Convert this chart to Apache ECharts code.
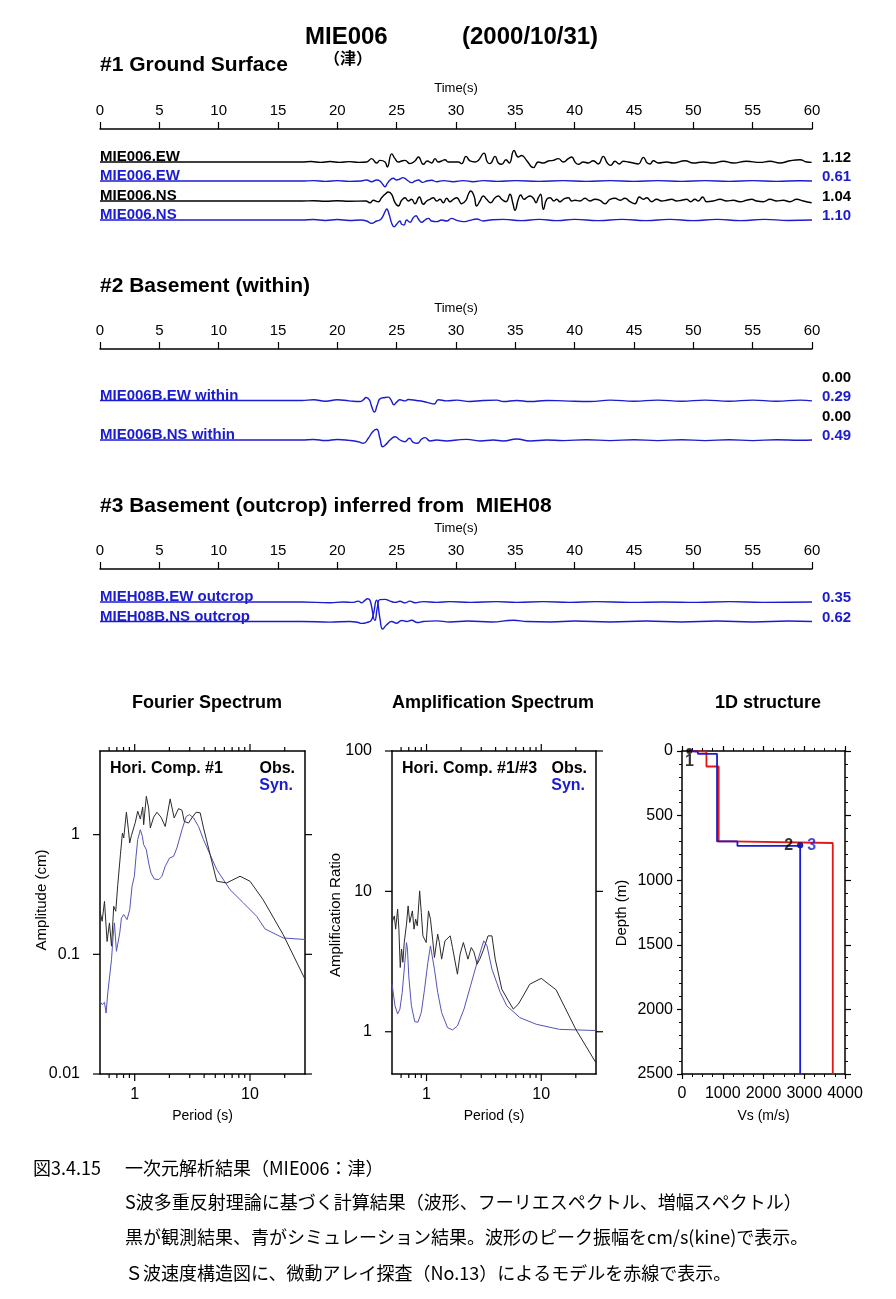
<!DOCTYPE html>
<html><head><meta charset="utf-8">
<script src="https://cdn.jsdelivr.net/npm/echarts@6/dist/echarts.min.js"></script>
<style>html,body{margin:0;padding:0;background:#fff}#c{width:896px;height:1299px}</style>
</head><body><div id="c"></div>
<script>
// ---------------- DATA ----------------
const timeTicks = [0,5,10,15,20,25,30,35,40,45,50,55,60];

// Section #1 waveforms: [time s, normalized amplitude]
const obsEW1 = [[0,0],[17,0],[17.8,0.04],[18.6,-0.03],[19.4,0.04],[20.2,-0.03],[21.0,0.03],[21.8,-0.03],[22.47,0],[22.89,0.29],[23.31,-0.09],[23.59,0.14],[24.02,0],[24.21,-0.43],[24.58,0.71],[24.86,0.29],[25.14,0],[25.42,0.09],[25.70,0.14],[26.12,-0.14],[26.54,0.09],[26.83,0.43],[27.25,-0.2],[27.58,0.09],[27.95,-0.09],[28.23,0.29],[28.51,0],[28.79,0.09],[29.07,0.2],[29.35,0],[29.77,0],[30.20,0],[30.48,-0.14],[30.84,0.49],[31.18,0.09],[31.60,0],[31.88,0.14],[32.36,0.77],[32.64,0],[32.86,-0.14],[33.29,0.49],[33.57,-0.09],[33.85,-0.2],[34.21,0.2],[34.49,-0.09],[34.89,1.0],[35.25,0.43],[35.53,0.57],[35.95,0.14],[36.52,-0.49],[36.94,0],[37.36,-0.09],[37.78,0.09],[38.20,0.14],[38.62,0.29],[39.05,0],[39.47,0.29],[39.75,0.43],[40.03,0],[40.31,-0.2],[40.73,0],[41.15,-0.09],[41.57,0.11],[41.99,-0.17],[42.41,0.49],[42.75,-0.09],[43.03,-0.29],[43.40,0.06],[43.76,-0.17],[44.10,0.06],[44.52,0],[44.94,-0.09],[45.36,-0.17],[45.79,0.4],[46.12,-0.09],[46.35,-0.17],[46.63,0.11],[47.05,-0.09],[47.75,0],[48.31,-0.09],[49.30,0.11],[50.0,-0.09],[50.84,0],[51.68,-0.09],[52.52,0.06],[53.37,-0.09],[54.49,0.06],[55.62,-0.03],[56.46,0.06],[57.30,-0.09],[58.14,0.11],[58.99,0.2],[59.55,0],[59.97,-0.03]];
const synEW1 = [[0,0],[17,0],[18,0.06],[19,-0.06],[20,0.06],[21,-0.06],[22.0,0],[22.47,0.18],[22.89,-0.12],[23.31,0.18],[23.59,0],[23.87,-0.71],[24.02,-1.0],[24.21,-0.41],[24.44,0.18],[24.72,0.47],[25.0,0.18],[25.28,0.35],[25.5,0.59],[25.7,0.47],[25.98,0],[26.26,-0.29],[26.54,0],[26.83,0.18],[27.19,-0.24],[27.53,0],[27.95,0.12],[28.37,-0.12],[28.93,0.06],[29.77,-0.12],[30.62,0.06],[31.46,-0.12],[32.3,0.06],[33.5,-0.06],[35,0.06],[37,-0.06],[39,0.06],[41,-0.06],[43,0.06],[45,-0.06],[47,0.06],[49,-0.06],[51,0.06],[53,-0.06],[55,0.06],[57,-0.06],[59,0.04],[60,0]];
const obsNS1 = [[0,0],[17,0],[18,0.03],[19,-0.03],[20,0.03],[21,-0.03],[22.4,0],[22.75,-0.17],[23.03,0.07],[23.45,-0.07],[23.73,0.33],[24.02,0.67],[24.30,0.9],[24.58,0.67],[24.86,-0.17],[25.14,-0.5],[25.42,0.07],[25.70,0.33],[25.98,0],[26.26,0.17],[26.54,-0.27],[26.91,0.4],[27.25,-0.33],[27.53,0],[27.81,0.17],[28.09,0.33],[28.37,0],[28.65,0.17],[28.93,-0.17],[29.21,0.27],[29.49,-0.07],[29.77,0.17],[30.06,0.33],[30.48,-0.27],[30.84,0.07],[31.04,0.67],[31.24,1.0],[31.52,0.5],[31.74,-0.5],[32.02,0],[32.30,0.5],[32.58,0.17],[32.92,-0.17],[33.29,0.33],[33.57,0.5],[33.85,0.17],[34.21,-0.07],[34.55,0.67],[34.78,-0.17],[34.97,-0.93],[35.25,0.17],[35.45,0.6],[35.73,0.17],[35.95,0.33],[36.24,0.5],[36.52,0.27],[36.74,-0.17],[36.94,0.33],[37.13,0.67],[37.36,-0.83],[37.64,0.17],[37.92,0.33],[38.26,0],[38.48,0.17],[38.76,-0.07],[39.05,0.17],[39.47,0.33],[39.75,0],[40.03,0.07],[40.45,0],[40.87,0.27],[41.29,0],[41.71,0.17],[42.13,0.07],[42.55,-0.27],[42.98,0.17],[43.40,0.27],[43.82,0.07],[44.24,0.27],[44.66,-0.07],[45.08,-0.27],[45.45,0.4],[45.79,0.17],[46.07,0.33],[46.49,-0.07],[46.91,0.17],[47.33,0],[47.75,0.07],[48.17,0.17],[48.59,0],[49.01,0.07],[49.44,0.17],[49.77,-0.07],[50.14,0.17],[50.42,0],[50.79,0.4],[51.12,-0.07],[51.68,0],[52.25,0.17],[52.81,0],[53.37,0.07],[53.93,-0.07],[54.49,0.07],[54.91,0.17],[55.34,0],[55.90,-0.07],[56.46,0.17],[57.02,0],[57.58,0.07],[58.14,-0.07],[58.71,0.17],[59.27,0],[59.97,-0.17]];
const synNS1 = [[0,0],[17,0],[18,0.04],[19,-0.04],[20,0.04],[21,-0.04],[22,0],[22.47,-0.09],[22.89,-0.3],[23.31,-0.09],[23.59,0],[23.82,0.3],[24.02,0.76],[24.16,1.0],[24.38,0.45],[24.58,-0.3],[24.78,-0.61],[25.0,-0.39],[25.28,-0.09],[25.42,-0.39],[25.62,-0.45],[25.84,0],[26.12,-0.21],[26.40,0.21],[26.63,0.39],[26.83,0.09],[27.11,-0.21],[27.39,0],[27.67,0.15],[27.95,-0.09],[28.37,-0.15],[28.79,0],[29.21,-0.09],[29.63,0.15],[30.06,-0.03],[30.62,-0.15],[31.18,-0.03],[31.74,0.09],[32.30,-0.09],[32.86,0],[34,0.06],[35.5,-0.06],[37,0.06],[38.5,-0.06],[40,0.06],[42,-0.06],[44,0.06],[46,-0.06],[48,0.06],[50,-0.06],[52,0.06],[54,-0.06],[56,0.06],[58,-0.04],[60,0]];
const names1 = ['MIE006.EW','MIE006.EW','MIE006.NS','MIE006.NS'];
const peaks1 = ['1.12','0.61','1.04','1.10'];

// Section #2
const withinEW = [[0,0],[17,0],[18,0.06],[19,-0.06],[20,0.06],[21,-0.03],[21.91,-0.09],[22.19,0.06],[22.42,0.26],[22.70,0.06],[22.89,-0.51],[23.12,-1.0],[23.37,-0.37],[23.59,0.14],[24.02,0.26],[24.30,0.29],[24.52,0.06],[24.77,-0.37],[25.0,-0.14],[25.28,0.06],[25.70,-0.03],[25.98,0.09],[26.68,0],[27.25,-0.09],[27.81,-0.23],[28.15,-0.31],[28.51,0.06],[29.21,-0.03],[30.06,0.03],[31.18,-0.09],[32.30,0],[33.43,0.03],[33.99,-0.09],[35.11,0],[36.24,-0.09],[37.64,0],[39.05,-0.03],[41.29,-0.09],[43,0.03],[45,-0.06],[47,0.03],[49,-0.06],[51,0.03],[53,-0.06],[55,0.03],[57,-0.06],[59,0.03],[60,-0.03]];
const withinNS = [[0,0],[17,0],[18,0.05],[19,-0.05],[20,0.05],[21,-0.03],[21.77,-0.16],[22.19,-0.31],[22.61,0.16],[22.98,0.78],[23.31,1.0],[23.59,0.16],[23.82,-0.63],[24.10,-0.41],[24.44,0],[24.86,0.31],[25.28,0],[25.70,-0.16],[26.07,0.16],[26.40,-0.22],[26.74,-0.31],[27.11,0.09],[27.39,0.22],[27.81,-0.09],[28.37,0],[29.21,-0.09],[30.06,0],[30.9,0.06],[32.02,-0.09],[33.15,0],[33.99,-0.09],[35.11,0.09],[36.24,-0.09],[37.64,0],[39.05,-0.06],[41,0.03],[43,-0.06],[45,0.03],[47,-0.06],[49,0.03],[51,-0.06],[53,0.03],[55,-0.06],[57,0.03],[59,-0.03],[60,0]];
const names2 = ['MIE006B.EW within','MIE006B.NS within'];
const peaks2 = ['0.00','0.29','0.00','0.49'];

// Section #3
const outcropEW = [[0,0],[17,0],[19.38,-0.04],[20.5,0],[21.35,-0.02],[21.77,0.05],[22.05,-0.04],[22.33,0.09],[22.53,0.18],[22.75,0.09],[23.17,-1.0],[23.37,-0.31],[23.59,0.13],[24.02,0.14],[24.44,0.05],[24.86,-0.02],[25.28,0.04],[25.70,-0.05],[26.12,0.05],[26.54,-0.04],[27.25,0.02],[28.37,-0.02],[29.49,0.02],[31.18,-0.02],[33.43,0.02],[35.11,-0.02],[37.36,0.02],[39.61,-0.02],[41.85,0.02],[44.66,-0.02],[47.47,0],[50.28,-0.02],[53.09,0.02],[55.9,-0.02],[60,0]];
const outcropNS = [[0,0],[17,0],[19.38,-0.03],[21.07,0],[21.77,-0.05],[22.05,-0.09],[22.47,-0.05],[22.89,0.08],[23.31,1.0],[23.59,0.15],[23.82,-0.35],[24.16,-0.15],[24.58,0],[25.0,-0.08],[25.42,0.05],[25.84,0],[26.26,0.06],[26.74,-0.05],[27.25,0],[28.37,0.03],[29.49,-0.02],[31,0.02],[33,-0.02],[34.83,0.06],[36,0],[38,-0.02],[40,0.02],[43,-0.02],[46,0.02],[49,-0.02],[52,0.02],[55,-0.02],[58,0.02],[60,0]];
const names3 = ['MIEH08B.EW outcrop','MIEH08B.NS outcrop'];
const peaks3 = ['0.35','0.62'];

// Fourier spectrum [period s, amplitude cm]
const fourierObs = [[0.5,0.229],[0.522,0.189],[0.547,0.277],[0.576,0.128],[0.604,0.183],[0.629,0.117],[0.658,0.252],[0.685,0.229],[0.713,0.382],[0.732,0.370],[0.752,0.681],[0.782,1.03],[0.803,0.938],[0.847,1.54],[0.882,1.10],[0.905,0.852],[0.936,0.981],[0.967,0.968],[1.013,1.27],[1.062,1.57],[1.119,1.35],[1.173,1.70],[1.196,1.21],[1.261,2.09],[1.321,1.67],[1.366,1.14],[1.46,1.40],[1.56,1.54],[1.69,1.40],[1.84,1.17],[2.03,1.99],[2.20,1.38],[2.28,1.35],[2.40,1.65],[2.57,1.60],[2.69,1.29],[2.93,1.25],[3.13,1.38],[3.41,1.54],[3.70,1.52],[3.95,1.14],[4.51,0.681],[5.15,0.408],[6.28,0.395],[8.20,0.449],[10,0.408],[13.0,0.286],[19.4,0.146],[30,0.062]];
const fourierSyn = [[0.5,0.0405],[0.522,0.038],[0.547,0.0397],[0.565,0.0323],[0.584,0.0475],[0.604,0.0634],[0.616,0.0655],[0.629,0.0902],[0.650,0.141],[0.667,0.183],[0.694,0.106],[0.713,0.109],[0.742,0.151],[0.767,0.201],[0.803,0.215],[0.858,0.195],[0.905,0.236],[0.948,0.370],[0.993,0.449],[1.027,0.659],[1.062,0.908],[1.119,1.10],[1.165,0.968],[1.196,0.825],[1.261,0.749],[1.321,0.580],[1.384,0.478],[1.479,0.426],[1.613,0.421],[1.723,0.449],[1.84,0.544],[2.007,0.638],[2.174,0.659],[2.323,0.774],[2.57,1.10],[2.80,1.42],[2.99,1.47],[3.24,1.38],[3.58,1.17],[3.95,0.908],[4.51,0.681],[5.15,0.510],[6.71,0.347],[8.76,0.269],[11.42,0.208],[13.5,0.163],[19.4,0.137],[30,0.133]];

// Amplification spectrum [period s, ratio]
const ampObs = [[0.5,6.0],[0.524,6.69],[0.538,5.38],[0.56,7.47],[0.574,5.38],[0.59,2.87],[0.606,3.88],[0.622,3.12],[0.639,4.32],[0.669,5.84],[0.691,7.88],[0.714,6.0],[0.738,6.17],[0.753,7.26],[0.778,5.38],[0.804,6.34],[0.831,5.68],[0.871,10.08],[0.9,7.07],[0.93,4.82],[0.961,4.88],[0.993,4.32],[1.04,7.26],[1.082,6.34],[1.134,4.44],[1.172,3.38],[1.251,4.96],[1.293,4.32],[1.354,3.29],[1.447,4.44],[1.608,4.82],[1.684,3.98],[1.859,2.57],[1.96,3.57],[2.094,4.32],[2.193,3.77],[2.296,3.29],[2.453,3.98],[2.586,3.71],[2.762,3.03],[2.912,3.29],[3.152,3.88],[3.435,4.82],[3.717,4.82],[3.97,3.29],[4.531,2.01],[5.17,1.66],[5.706,1.45],[6.302,1.57],[6.957,1.80],[7.937,2.18],[10,2.40],[13.46,1.99],[20.0,1.04],[30,0.6]];
const ampSyn = [[0.5,2.2],[0.531,1.53],[0.56,1.34],[0.586,1.45],[0.614,1.91],[0.647,3.12],[0.669,4.32],[0.682,3.88],[0.70,2.50],[0.738,1.53],[0.789,1.18],[0.842,1.17],[0.9,1.37],[0.961,2.01],[1.027,3.12],[1.082,4.09],[1.119,3.98],[1.172,2.79],[1.251,1.91],[1.354,1.37],[1.525,1.07],[1.684,1.03],[1.859,1.10],[2.121,1.45],[2.421,2.13],[2.762,3.12],[3.152,4.44],[3.367,4.09],[3.717,2.79],[4.384,1.91],[5.003,1.53],[6.513,1.26],[9.06,1.13],[14.4,1.04],[30,1.02]];

// 1D structure: layer Vs (m/s) and layer top depth (m)
const modelVs = [200, 390, 860, 1360, 2900];
const modelTop = [0, 5, 22, 700, 735];
const arrayVs = [150, 600, 900, 1200, 3700];
const arrayTop = [0, 5, 120, 700, 712];
const stationPts = [{name:'1', vs:180, depth:0}, {name:'2', vs:2900, depth:730}, {name:'3', vs:2900, depth:730}];

// Caption
const captionLines = [
  '図3.4.15',
  '一次元解析結果（MIE006：津）',
  'S波多重反射理論に基づく計算結果（波形、フーリエスペクトル、増幅スペクトル）',
  '黒が観測結果、青がシミュレーション結果。波形のピーク振幅をcm/s(kine)で表示。',
  'Ｓ波速度構造図に、微動アレイ探査（No.13）によるモデルを赤線で表示。'
];

// ---------------- BUILD ----------------
const FONT = '"Liberation Sans", Arial, Helvetica, sans-serif';
const CJK = '"Noto Sans CJK JP", "Noto Sans CJK SC", sans-serif';
const BLUE = '#1b1bd0';
const SYNBLUE = '#5454b8';
const RED = '#e01818';

function txt(text, x, y, o) {
  o = o || {};
  return {type:'text', x:x, y:y, rotation:o.rotation||0, silent:true, z:100,
    style:{text:text, fill:o.color||'#000', fontSize:o.size||15, fontWeight:o.weight||'bold',
      fontFamily:o.font||FONT, align:o.align||'left', verticalAlign:'middle'}};
}

const waveSections = [
  {top:129, height:100, traces:[
    {data:obsEW1, base:33, gain:11.5, color:'#000'},
    {data:synEW1, base:52, gain:5.7, color:BLUE},
    {data:obsNS1, base:72, gain:10, color:'#000'},
    {data:synNS1, base:91, gain:11, color:BLUE}]},
  {top:349, height:100, traces:[
    {data:withinEW, base:51.5, gain:11.5, color:BLUE},
    {data:withinNS, base:91, gain:10.7, color:BLUE}]},
  {top:569, height:70, traces:[
    {data:outcropEW, base:33, gain:18.4, color:BLUE},
    {data:outcropNS, base:52.5, gain:21.3, color:BLUE}]}
];

const grids = [], xAxes = [], yAxes = [], series = [];
const graphics = [];

waveSections.forEach(function(sec, i){
  grids.push({left:100, width:712, top:sec.top, height:sec.height, outerBoundsMode:'none'});
  xAxes.push({gridIndex:i, type:'value', position:'top', min:0, max:60, interval:5,
    name:'Time(s)', nameLocation:'middle', nameGap:34,
    nameTextStyle:{fontSize:13, color:'#000', fontFamily:FONT},
    axisLine:{show:true, onZero:false, lineStyle:{color:'#000', width:1.5}},
    axisTick:{show:true, inside:false, length:7, lineStyle:{color:'#000', width:1.2}},
    axisLabel:{fontSize:15, color:'#000', margin:11, fontFamily:FONT,
      formatter:function(v){ return timeTicks.indexOf(v) >= 0 ? String(v) : ''; }},
    splitLine:{show:false}});
  yAxes.push({gridIndex:i, type:'value', min:0, max:sec.height, inverse:true, show:false});
  sec.traces.forEach(function(tr){
    series.push({type:'line', xAxisIndex:i, yAxisIndex:i, symbol:'none', smooth:0.5,
      lineStyle:{color:tr.color, width:1.4}, silent:true, animation:false, z:3,
      data:tr.data.map(function(p){ return [p[0], tr.base - p[1]*tr.gain]; })});
  });
});

// Section texts
const sec1 = waveSections[0];
names1.forEach(function(n, k){
  const tr = sec1.traces[k];
  const y = sec1.top + tr.base;
  graphics.push(txt(n, 100, y - 5, {color:tr.color}));
  graphics.push(txt(peaks1[k], 822, y - 4, {color:tr.color}));
});
const sec2 = waveSections[1];
names2.forEach(function(n, k){
  const y = sec2.top + sec2.traces[k].base;
  graphics.push(txt(n, 100, y - 5, {color:BLUE}));
  graphics.push(txt(peaks2[2*k], 822, y - 23, {color:'#000'}));
  graphics.push(txt(peaks2[2*k+1], 822, y - 4, {color:BLUE}));
});
const sec3 = waveSections[2];
names3.forEach(function(n, k){
  const y = sec3.top + sec3.traces[k].base;
  graphics.push(txt(n, 100, y - 5, {color:BLUE}));
  graphics.push(txt(peaks3[k], 822, y - 4, {color:BLUE}));
});

// Titles
graphics.push(txt('MIE006', 305, 37, {size:24}));
graphics.push(txt('(2000/10/31)', 462, 37, {size:24}));
graphics.push(txt('（津）', 324, 58, {size:16, font:CJK}));
graphics.push(txt('#1 Ground Surface', 100, 65, {size:21}));
graphics.push(txt('#2 Basement (within)', 100, 286, {size:21}));
graphics.push(txt('#3 Basement (outcrop) inferred from  MIEH08', 100, 506, {size:21}));
graphics.push(txt('Fourier Spectrum', 207, 703, {size:18, align:'center'}));
graphics.push(txt('Amplification Spectrum', 493, 703, {size:18, align:'center'}));
graphics.push(txt('1D structure', 768, 703, {size:18, align:'center'}));

// Spectrum panels
function logPanel(gi, left, width, yMin, yMax, hideMinY, yName, yNameX, yNameY) {
  const xi = xAxes.length, yi = yAxes.length;
  grids.push({left:left, width:width, top:751, height:323, outerBoundsMode:'none'});
  const lineSt = {show:true, onZero:false, lineStyle:{color:'#000', width:1.5}};
  xAxes.push({gridIndex:gi, type:'log', logBase:10, min:0.5, max:30, position:'bottom',
    axisLine:lineSt, axisTick:{show:false}, splitLine:{show:false},
    axisLabel:{fontSize:16, color:'#000', margin:13, fontFamily:FONT, showMinLabel:false, showMaxLabel:false},
    name:'Period (s)', nameLocation:'middle', nameGap:35, nameTextStyle:{fontSize:14, color:'#000', fontFamily:FONT}});
  xAxes.push({gridIndex:gi, type:'log', logBase:10, min:0.5, max:30, position:'top',
    axisLine:lineSt, axisTick:{show:false}, axisLabel:{show:false}, splitLine:{show:false}});
  yAxes.push({gridIndex:gi, type:'log', logBase:10, min:yMin, max:yMax, position:'left',
    axisLine:lineSt, axisTick:{show:false}, splitLine:{show:false},
    axisLabel:{fontSize:16, color:'#000', margin:20, fontFamily:FONT, showMinLabel:!hideMinY, showMaxLabel:hideMinY}});
  yAxes.push({gridIndex:gi, type:'log', logBase:10, min:yMin, max:yMax, position:'right',
    axisLine:lineSt, axisTick:{show:false}, axisLabel:{show:false}, splitLine:{show:false}});
  graphics.push(txt(yName, yNameX, yNameY, {size:15, weight:'normal', align:'center', rotation:Math.PI/2}));
  return {xi:xi, yi:yi};
}

const xMajor = [1, 10];
const xMinor = [0.6,0.7,0.8,0.9,2,3,4,5,6,7,8,9,20];
function tickSeries(ax, yDecades) {
  const data = [];
  xMajor.forEach(function(v){ data.push([v, 1, 0]); });
  xMinor.forEach(function(v){ data.push([v, 1, 1]); });
  yDecades.forEach(function(v){ data.push([1, v, 2]); });
  return {type:'custom', xAxisIndex:ax.xi, yAxisIndex:ax.yi, silent:true, clip:false, z:6, animation:false,
    data:data,
    renderItem:function(params, api){
      const kind = api.value(2);
      const cs = params.coordSys;
      const p = api.coord([api.value(0), api.value(1)]);
      const st = {stroke:'#000', lineWidth:1.2};
      if (kind < 2) {
        const L = kind === 1 ? 4 : 7;
        return {type:'group', children:[
          {type:'line', shape:{x1:p[0], y1:cs.y, x2:p[0], y2:cs.y - L}, style:st},
          {type:'line', shape:{x1:p[0], y1:cs.y + cs.height, x2:p[0], y2:cs.y + cs.height + L}, style:st}]};
      }
      return {type:'group', children:[
        {type:'line', shape:{x1:cs.x, y1:p[1], x2:cs.x - 7, y2:p[1]}, style:st},
        {type:'line', shape:{x1:cs.x + cs.width, y1:p[1], x2:cs.x + cs.width + 7, y2:p[1]}, style:st}]};
    }};
}

const fAx = logPanel(3, 100, 205, 0.01, 5, false, 'Amplitude (cm)', 42, 900);
series.push({type:'line', xAxisIndex:fAx.xi, yAxisIndex:fAx.yi, data:fourierObs, symbol:'none',
  lineStyle:{color:'#2a2a2a', width:1}, silent:true, animation:false, z:3});
series.push({type:'line', xAxisIndex:fAx.xi, yAxisIndex:fAx.yi, data:fourierSyn, symbol:'none',
  lineStyle:{color:SYNBLUE, width:1}, silent:true, animation:false, z:2});
series.push(tickSeries(fAx, [0.01, 0.1, 1]));

const aAx = logPanel(4, 392, 204, 0.5, 100, true, 'Amplification Ratio', 336, 915);
series.push({type:'line', xAxisIndex:aAx.xi, yAxisIndex:aAx.yi, data:ampObs, symbol:'none',
  lineStyle:{color:'#2a2a2a', width:1}, silent:true, animation:false, z:3});
series.push({type:'line', xAxisIndex:aAx.xi, yAxisIndex:aAx.yi, data:ampSyn, symbol:'none',
  lineStyle:{color:SYNBLUE, width:1}, silent:true, animation:false, z:2});
series.push(tickSeries(aAx, [1, 10, 100]));

graphics.push(txt('Hori. Comp. #1', 110, 769, {size:16}));
graphics.push(txt('Obs.', 295, 769, {size:16, align:'right'}));
graphics.push(txt('Syn.', 293, 786, {size:16, align:'right', color:BLUE}));
graphics.push(txt('Hori. Comp. #1/#3', 402, 769, {size:16}));
graphics.push(txt('Obs.', 587, 769, {size:16, align:'right'}));
graphics.push(txt('Syn.', 585, 786, {size:16, align:'right', color:BLUE}));

// 1D structure
const plain = function(v){ return String(v); };
const sXi = xAxes.length, sYi = yAxes.length;
grids.push({left:682, width:163, top:751, height:323, outerBoundsMode:'none'});
const sLine = {show:true, onZero:false, lineStyle:{color:'#000', width:1.5}};
const sTick = {show:true, inside:false, length:5, lineStyle:{color:'#000', width:1.2}};
const sMinor = {show:true, splitNumber:4, length:3, lineStyle:{color:'#000', width:1}};
xAxes.push({gridIndex:5, type:'value', min:0, max:4000, interval:1000, position:'bottom',
  axisLine:sLine, axisTick:sTick, minorTick:sMinor, splitLine:{show:false},
  axisLabel:{fontSize:16, color:'#000', margin:12, fontFamily:FONT, formatter:plain, hideOverlap:false},
  name:'Vs (m/s)', nameLocation:'middle', nameGap:35, nameTextStyle:{fontSize:14, color:'#000', fontFamily:FONT}});
xAxes.push({gridIndex:5, type:'value', min:0, max:4000, interval:1000, position:'top',
  axisLine:sLine, axisTick:sTick, minorTick:sMinor, splitLine:{show:false}, axisLabel:{show:false}});
const yMinorS = {show:true, splitNumber:5, length:3, lineStyle:{color:'#000', width:1}};
yAxes.push({gridIndex:5, type:'value', min:0, max:2500, interval:500, inverse:true, position:'left',
  axisLine:sLine, axisTick:sTick, minorTick:yMinorS, splitLine:{show:false},
  axisLabel:{fontSize:16, color:'#000', margin:9, fontFamily:FONT, formatter:plain}});
yAxes.push({gridIndex:5, type:'value', min:0, max:2500, interval:500, inverse:true, position:'right',
  axisLine:sLine, axisTick:{show:true, inside:false, length:6, lineStyle:{color:'#000', width:1.2}},
  minorTick:yMinorS, splitLine:{show:false}, axisLabel:{show:false}});
graphics.push(txt('Depth (m)', 622, 913, {size:15, weight:'normal', align:'center', rotation:Math.PI/2}));

function stepProfile(vs, tops, bottom) {
  const pts = [];
  for (let i = 0; i < vs.length; i++) {
    const d1 = i + 1 < vs.length ? tops[i + 1] : bottom;
    pts.push([vs[i], tops[i]], [vs[i], d1]);
  }
  return pts;
}
series.push({type:'line', xAxisIndex:sXi, yAxisIndex:sYi, data:stepProfile(arrayVs, arrayTop, 2500),
  symbol:'none', lineStyle:{color:RED, width:1.8}, silent:true, animation:false, z:3});
series.push({type:'line', xAxisIndex:sXi, yAxisIndex:sYi, data:stepProfile(modelVs, modelTop, 2500),
  symbol:'none', lineStyle:{color:BLUE, width:1.8}, silent:true, animation:false, z:4});
const ptCfg = [{color:'#000', pos:'bottom', dist:0}, {color:'#000', pos:'left', dist:4}, {color:BLUE, pos:'right', dist:4}];
stationPts.forEach(function(p, k){
  series.push({type:'scatter', xAxisIndex:sXi, yAxisIndex:sYi, data:[[p.vs, p.depth]], symbolSize:6,
    itemStyle:{color:ptCfg[k].color}, silent:true, animation:false, z:5 + k,
    label:{show:true, formatter:p.name, position:ptCfg[k].pos, distance:ptCfg[k].dist,
      color:ptCfg[k].color, fontSize:16, fontWeight:'bold', fontFamily:FONT}});
});

// Caption
graphics.push(txt(captionLines[0], 33, 1168, {size:18, weight:'normal', font:CJK}));
graphics.push(txt(captionLines[1], 125, 1168, {size:18, weight:'normal', font:CJK}));
graphics.push(txt(captionLines[2], 125, 1202, {size:18, weight:'normal', font:CJK}));
graphics.push(txt(captionLines[3], 125, 1237, {size:18, weight:'normal', font:CJK}));
graphics.push(txt(captionLines[4], 125, 1273, {size:18, weight:'normal', font:CJK}));

const chart = echarts.init(document.getElementById('c'), null, {renderer:'canvas'});
chart.setOption({
  backgroundColor:'#fff',
  animation:false,
  textStyle:{fontFamily:FONT},
  grid:grids, xAxis:xAxes, yAxis:yAxes, series:series, graphic:graphics
});
</script>
</body></html>
